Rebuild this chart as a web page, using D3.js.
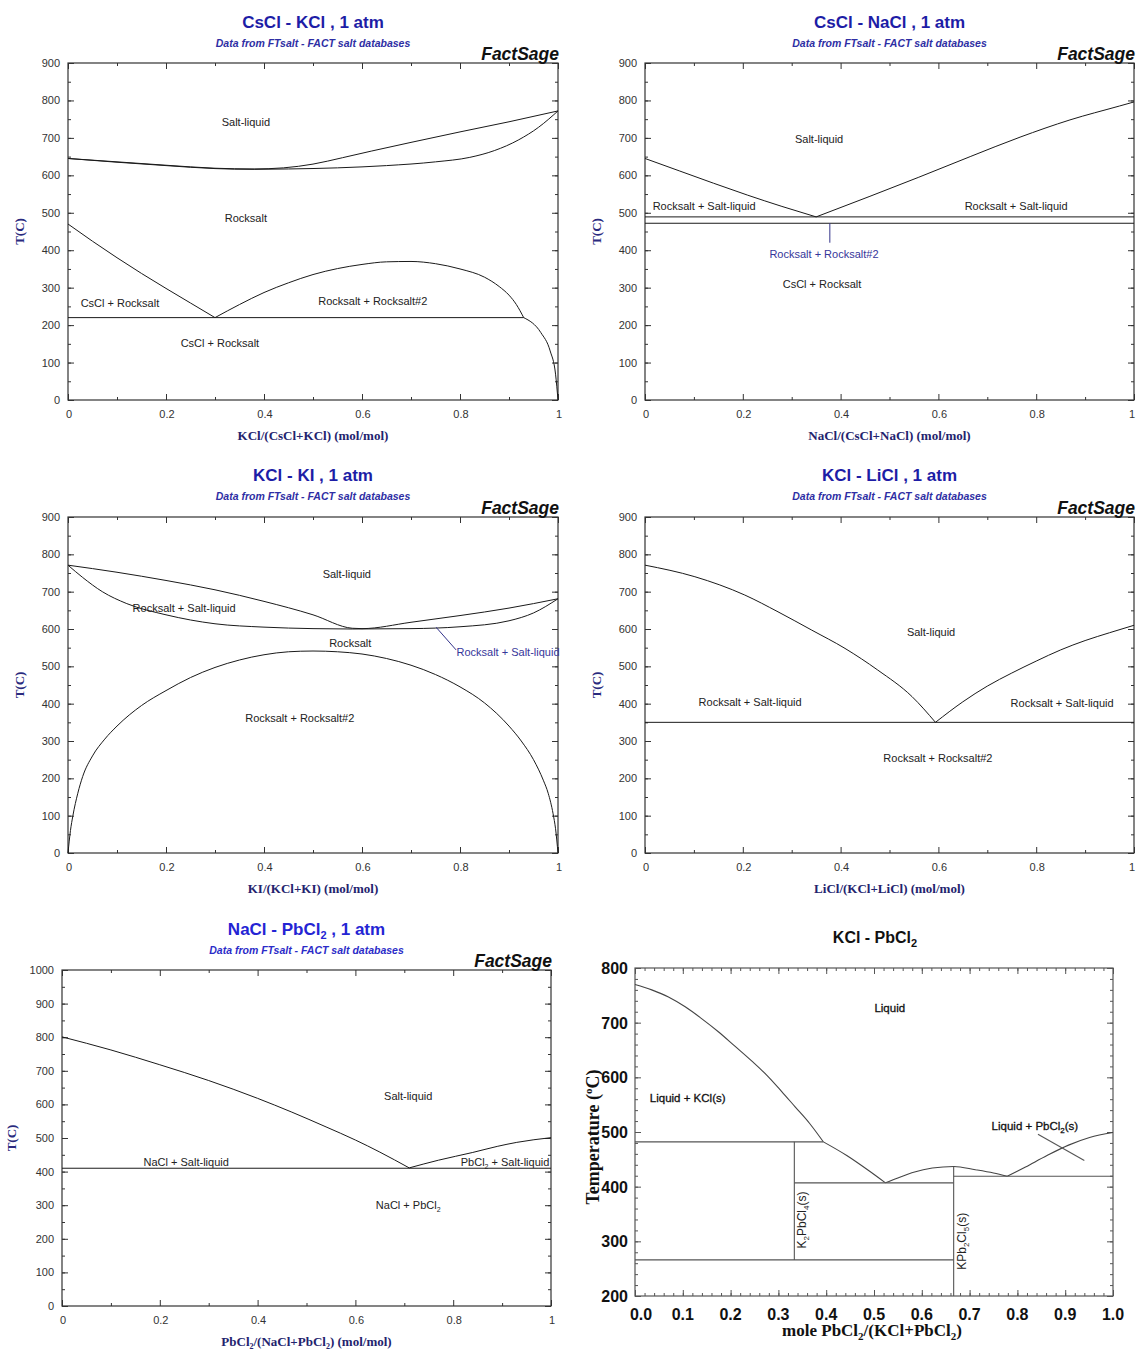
<!DOCTYPE html>
<html>
<head>
<meta charset="utf-8">
<script src="https://cdn.jsdelivr.net/npm/d3@7"></script>
<style>
body { margin: 0; background: #fff; }
svg { display: block; }
</style>
</head>
<body>
<script>
// tick labels
var xTicksFact = [0, 0.2, 0.4, 0.6, 0.8, 1];
var yTicks900 = [0, 100, 200, 300, 400, 500, 600, 700, 800, 900];
var yTicks1000 = [0, 100, 200, 300, 400, 500, 600, 700, 800, 900, 1000];
var xTicksKP = [0, 0.1, 0.2, 0.3, 0.4, 0.5, 0.6, 0.7, 0.8, 0.9, 1.0];
var yTicksKP = [200, 300, 400, 500, 600, 700, 800];

// CsCl - KCl  (x = KCl fraction, T in C)
var csKclLiquidus = [[0,645],[0.1,636],[0.2,627],[0.3,619],[0.38,617],[0.44,620],[0.5,630],[0.56,647],[0.62,665],[0.7,688],[0.8,716],[0.9,743],[1,772]];
var csKclSolidus = [[0,645],[0.1,635],[0.2,626],[0.3,618],[0.38,616],[0.45,617],[0.55,620],[0.65,626],[0.75,636],[0.82,648],[0.87,666],[0.92,695],[0.96,728],[1,772]];
var csKclSolvusLeft = [[0,470],[0.05,424],[0.1,380],[0.15,338],[0.2,298],[0.25,259],[0.3,220]];
var csKclSolvusRight = [[0.3,220],[0.35,255],[0.4,287],[0.45,313],[0.5,335],[0.55,351],[0.6,362],[0.65,369],[0.7,370],[0.75,364],[0.8,350],[0.85,328],[0.88,303],[0.9,280],[0.915,255],[0.93,220]];
var csKclLowBranch = [[0.93,220],[0.965,180],[0.984,131],[0.995,69],[1,0]];
var csKclEutectoid = [[0,220],[0.93,220]];
var csKclLabels = [
  {t: "Salt-liquid", x: 0.363, T: 742},
  {t: "Rocksalt", x: 0.363, T: 486},
  {t: "CsCl + Rocksalt", x: 0.106, T: 259},
  {t: "Rocksalt + Rocksalt#2", x: 0.622, T: 264},
  {t: "CsCl + Rocksalt", x: 0.31, T: 152}
];

// CsCl - NaCl
var csNaLiqLeft = [[0,645],[0.07,612],[0.14,579],[0.21,547],[0.28,517],[0.35,489]];
var csNaLiqRight = [[0.35,489],[0.46,544],[0.56,595],[0.665,650],[0.767,702],[0.869,748],[0.97,785],[1,796]];
var csNaEutectic = [[0,489],[1,489]];
var csNaTransition = [[0,472],[1,472]];
var csNaLeader = [[0.378,472],[0.378,420]];
var csNaLabels = [
  {t: "Salt-liquid", x: 0.356, T: 697},
  {t: "Rocksalt + Salt-liquid", x: 0.121, T: 518},
  {t: "Rocksalt + Salt-liquid", x: 0.759, T: 518},
  {t: "Rocksalt + Rocksalt#2", x: 0.366, T: 390, blue: true},
  {t: "CsCl + Rocksalt", x: 0.362, T: 310}
];

// KCl - KI
var kkiLiquidus = [[0,771],[0.1,752],[0.2,730],[0.3,705],[0.4,674],[0.5,638],[0.58,602],[0.6,601],[0.7,618],[0.8,636],[0.9,656],[1,681]];
var kkiSolidus = [[0,771],[0.03,738],[0.07,700],[0.12,668],[0.2,638],[0.3,614],[0.4,605],[0.5,601],[0.58,600],[0.7,601],[0.8,606],[0.9,622],[0.95,643],[1,681]];
var kkiGap = [[0,0],[0.005,60],[0.01,100],[0.02,160],[0.03,205],[0.05,260],[0.075,305],[0.1,340],[0.15,395],[0.2,435],[0.25,470],[0.3,497],[0.35,517],[0.4,531],[0.45,539],[0.5,541],[0.55,539],[0.6,533],[0.65,521],[0.7,503],[0.75,478],[0.8,445],[0.85,402],[0.9,340],[0.925,300],[0.95,250],[0.97,195],[0.98,160],[0.99,105],[0.995,65],[1,0]];
var kkiLeader = [[0.751,605],[0.792,544]];
var kkiLabels = [
  {t: "Salt-liquid", x: 0.569, T: 747},
  {t: "Rocksalt + Salt-liquid", x: 0.237, T: 656},
  {t: "Rocksalt", x: 0.576, T: 563},
  {t: "Rocksalt + Salt-liquid", x: 0.898, T: 538, blue: true},
  {t: "Rocksalt + Rocksalt#2", x: 0.473, T: 362}
];

// KCl - LiCl
var kliLiqLeft = [[0,771],[0.102,740],[0.204,691],[0.272,646],[0.341,597],[0.409,548],[0.476,490],[0.546,419],[0.594,350]];
var kliLiqRight = [[0.594,350],[0.65,405],[0.7,447],[0.75,482],[0.8,514],[0.85,544],[0.9,569],[0.95,590],[1,610]];
var kliEutectic = [[0,350],[1,350]];
var kliLabels = [
  {t: "Salt-liquid", x: 0.585, T: 592},
  {t: "Rocksalt + Salt-liquid", x: 0.215, T: 404},
  {t: "Rocksalt + Salt-liquid", x: 0.853, T: 402},
  {t: "Rocksalt + Rocksalt#2", x: 0.599, T: 254}
];

// NaCl - PbCl2
var npLiqLeft = [[0,801],[0.1,762],[0.2,718],[0.3,671],[0.4,618],[0.47,577],[0.54,533],[0.6,494],[0.65,458],[0.71,411]];
var npLiqRight = [[0.71,411],[0.77,434],[0.84,457],[0.89,475],[0.93,487],[1,501]];
var npEutectic = [[0,410],[1,410]];
var npLabels = [
  {t: "Salt-liquid", x: 0.708, T: 625},
  {t: "NaCl + Salt-liquid", x: 0.254, T: 429},
  {t: "PbCl_2 + Salt-liquid", x: 0.906, T: 429},
  {t: "NaCl + PbCl_2", x: 0.708, T: 300}
];

// KCl - PbCl2
var kpLiq1 = [[0,770],[0.035,760],[0.07,747],[0.105,729],[0.14,707],[0.175,683],[0.209,657],[0.244,630],[0.279,601],[0.307,574],[0.335,546],[0.365,516],[0.394,482]];
var kpLiq2 = [[0.394,482],[0.443,457],[0.488,430],[0.524,407]];
var kpLiq3 = [[0.524,407],[0.547,415],[0.585,427],[0.622,434],[0.667,437],[0.712,431],[0.75,425],[0.779,419]];
var kpLiq4 = [[0.779,419],[0.817,436],[0.862,457],[0.907,476],[0.951,490],[1,499]];
var kpLines = [
  [[0,482],[0.394,482]],
  [[1/3,482],[1/3,266]],
  [[0,266],[2/3,266]],
  [[1/3,407],[2/3,407]],
  [[2/3,437],[2/3,200]],
  [[2/3,419],[1,419]],
  [[0.843,496],[0.94,448]]
];
var kpLabels = [
  {t: "Liquid", x: 0.533, T: 727, anchor: "middle"},
  {t: "Liquid + KCl(s)", x: 0.031, T: 562, anchor: "start"},
  {t: "Liquid + PbCl_2(s)", x: 0.746, T: 511, anchor: "start"}
];
var kpPhases = [
  {t: "K_2PbCl_4(s)", x: 0.349, T: 339},
  {t: "KPb_2Cl_5(s)", x: 0.684, T: 300}
];

var svg = d3.select("body").append("svg")
    .attr("width", 1136)
    .attr("height", 1352);

// text with _n subscripts
function rich(sel, str, subSize, shift) {
  var parts = str.split(/_(\d)/);
  var low = false;
  parts.forEach(function(s, i){
    if (s === "") return;
    var t = sel.append("tspan").text(s);
    if (i % 2 === 1) { t.attr("font-size", subSize).attr("dy", shift); low = true; }
    else if (low) { t.attr("dy", -shift); low = false; }
  });
}

function inwardTicks(g, x, y, p, xMaj, xMin, yMaj, yMin, lMaj, lMin, col) {
  var sets = [
    [d3.axisBottom(x), p.bottom, true], [d3.axisTop(x), p.top, true],
    [d3.axisLeft(y), p.left, false], [d3.axisRight(y), p.right, false]
  ];
  sets.forEach(function(s){
    [[s[2] ? xMin : yMin, lMin], [s[2] ? xMaj : yMaj, lMaj]].forEach(function(v){
      var ax = g.append("g")
        .attr("transform", s[2] ? "translate(0," + s[1] + ")" : "translate(" + s[1] + ",0)")
        .call(s[0].tickValues(v[0]).tickSize(-v[1]).tickFormat(""));
      ax.select(".domain").remove();
      ax.selectAll("line").attr("stroke", col);
    });
  });
}

function factPanel(p) {
  var g = svg.append("g");
  var x = d3.scaleLinear().domain([0, 1]).range([p.left, p.right]);
  var y = d3.scaleLinear().domain([0, p.tmax]).range([p.bottom, p.top]);
  var cx = (p.left + p.right) / 2;

  var yMin = y.ticks(p.tmax / 50);
  inwardTicks(g, x, y, p, xTicksFact, [0.1,0.3,0.5,0.7,0.9], p.yTicks, yMin, 6, 3, "#333");

  g.append("rect")
    .attr("x", p.left).attr("y", p.top)
    .attr("width", p.right - p.left).attr("height", p.bottom - p.top)
    .attr("fill", "none").attr("stroke", "#333").attr("stroke-width", 1.2);

  // tick labels (keep the last one inside the page)
  g.selectAll("text.xt").data(xTicksFact).enter().append("text")
    .attr("class", "xt")
    .attr("x", function(d){ return Math.min(x(d) + 1, 1135); })
    .attr("y", p.bottom + 18)
    .attr("text-anchor", function(d){ return x(d) + 4 > 1136 ? "end" : "middle"; })
    .attr("font-family", "Liberation Sans, Arial, sans-serif")
    .attr("font-size", 11).attr("fill", "#333")
    .text(function(d){ return d3.format("~g")(d); });
  g.selectAll("text.yt").data(p.yTicks).enter().append("text")
    .attr("class", "yt")
    .attr("x", p.left - 8)
    .attr("y", function(d){ return y(d) + 4; })
    .attr("text-anchor", "end")
    .attr("font-family", "Liberation Sans, Arial, sans-serif")
    .attr("font-size", 11).attr("fill", "#333")
    .text(function(d){ return d; });

  var smooth = d3.line().x(function(d){ return x(d[0]); }).y(function(d){ return y(d[1]); }).curve(d3.curveMonotoneX);
  var straight = d3.line().x(function(d){ return x(d[0]); }).y(function(d){ return y(d[1]); });
  p.curves.forEach(function(c){
    g.append("path").attr("d", smooth(c)).attr("fill", "none")
      .attr("stroke", "#1a1a1a").attr("stroke-width", 1);
  });
  p.lines.forEach(function(c){
    g.append("path").attr("d", straight(c)).attr("fill", "none")
      .attr("stroke", "#1a1a1a").attr("stroke-width", 1);
  });
  (p.leaders || []).forEach(function(c){
    g.append("path").attr("d", straight(c)).attr("fill", "none")
      .attr("stroke", "#33338a").attr("stroke-width", 1);
  });

  p.labels.forEach(function(l){
    var t = g.append("text")
      .attr("x", x(l.x)).attr("y", y(l.T) + 4)
      .attr("text-anchor", "middle")
      .attr("font-family", "Liberation Sans, Arial, sans-serif")
      .attr("font-size", 11)
      .attr("fill", l.blue ? "#36369a" : "#222");
    rich(t, l.t, 7, 3);
  });

  // titles
  var tt = g.append("text").attr("x", cx).attr("y", p.titleY)
    .attr("text-anchor", "middle")
    .attr("font-family", "Liberation Sans, Arial, sans-serif")
    .attr("font-weight", "bold").attr("font-size", 17)
    .attr("fill", p.titleColor);
  rich(tt, p.title, 11, 4);
  g.append("text").attr("x", cx).attr("y", p.titleY + 19)
    .attr("text-anchor", "middle")
    .attr("font-family", "Liberation Sans, Arial, sans-serif")
    .attr("font-weight", "bold").attr("font-style", "italic").attr("font-size", 10.5)
    .attr("fill", p.subColor)
    .text("Data from FTsalt - FACT salt databases");
  g.append("text").attr("x", p.right + 1).attr("y", p.top - 3)
    .attr("text-anchor", "end")
    .attr("font-family", "Liberation Sans, Arial, sans-serif")
    .attr("font-weight", "bold").attr("font-style", "italic").attr("font-size", 17.5)
    .attr("fill", "#111")
    .text("FactSage");

  // axis titles
  g.append("text")
    .attr("transform", "translate(" + (p.left - p.yTitleOff) + "," + ((p.top + p.bottom) / 2) + ") rotate(-90)")
    .attr("text-anchor", "middle")
    .attr("font-family", "Liberation Serif, Times New Roman, serif")
    .attr("font-weight", "bold").attr("font-size", 13)
    .attr("fill", "#2a2a7e")
    .text("T(C)");
  var xt = g.append("text").attr("x", cx).attr("y", p.bottom + 40)
    .attr("text-anchor", "middle")
    .attr("font-family", "Liberation Serif, Times New Roman, serif")
    .attr("font-weight", "bold").attr("font-size", 13)
    .attr("fill", "#23236e");
  rich(xt, p.xTitle, 8, 3);
}

var darkBlue = "#1d1da6", subBlue = "#2e2ea4";

factPanel({left: 68, right: 558, top: 63, bottom: 400, tmax: 900, yTicks: yTicks900,
  title: "CsCl - KCl , 1 atm", titleY: 28, titleColor: darkBlue, subColor: subBlue,
  xTitle: "KCl/(CsCl+KCl) (mol/mol)", yTitleOff: 44,
  curves: [csKclLiquidus, csKclSolidus, csKclSolvusLeft, csKclSolvusRight, csKclLowBranch],
  lines: [csKclEutectoid], labels: csKclLabels});

factPanel({left: 645, right: 1134, top: 63, bottom: 400, tmax: 900, yTicks: yTicks900,
  title: "CsCl - NaCl , 1 atm", titleY: 28, titleColor: darkBlue, subColor: subBlue,
  xTitle: "NaCl/(CsCl+NaCl) (mol/mol)", yTitleOff: 44,
  curves: [csNaLiqLeft, csNaLiqRight],
  lines: [csNaEutectic, csNaTransition], leaders: [csNaLeader], labels: csNaLabels});

factPanel({left: 68, right: 558, top: 517, bottom: 853, tmax: 900, yTicks: yTicks900,
  title: "KCl - KI , 1 atm", titleY: 481, titleColor: darkBlue, subColor: subBlue,
  xTitle: "KI/(KCl+KI) (mol/mol)", yTitleOff: 44,
  curves: [kkiLiquidus, kkiSolidus, kkiGap],
  lines: [], leaders: [kkiLeader], labels: kkiLabels});

factPanel({left: 645, right: 1134, top: 517, bottom: 853, tmax: 900, yTicks: yTicks900,
  title: "KCl - LiCl , 1 atm", titleY: 481, titleColor: darkBlue, subColor: subBlue,
  xTitle: "LiCl/(KCl+LiCl) (mol/mol)", yTitleOff: 44,
  curves: [kliLiqLeft, kliLiqRight],
  lines: [kliEutectic], labels: kliLabels});

factPanel({left: 62, right: 551, top: 970, bottom: 1306, tmax: 1000, yTicks: yTicks1000,
  title: "NaCl - PbCl_2 , 1 atm", titleY: 935, titleColor: "#2424d4", subColor: "#2b2bc8",
  xTitle: "PbCl_2/(NaCl+PbCl_2) (mol/mol)", yTitleOff: 46,
  curves: [npLiqLeft, npLiqRight],
  lines: [npEutectic], labels: npLabels});

// KCl - PbCl2 panel (different style)
(function(){
  var p = {left: 635, right: 1113, top: 968, bottom: 1296};
  var g = svg.append("g");
  var x = d3.scaleLinear().domain([0, 1]).range([p.left, p.right]);
  var y = d3.scaleLinear().domain([200, 800]).range([p.bottom, p.top]);
  var cx = (p.left + p.right) / 2;

  inwardTicks(g, x, y, p, xTicksKP, x.ticks(50), yTicksKP, y.ticks(30), 6, 3, "#555");
  g.append("rect")
    .attr("x", p.left).attr("y", p.top)
    .attr("width", p.right - p.left).attr("height", p.bottom - p.top)
    .attr("fill", "none").attr("stroke", "#555").attr("stroke-width", 1.2);

  g.selectAll("text.xt").data(xTicksKP).enter().append("text")
    .attr("x", function(d, i){ return x(d) + (i === 0 ? 6 : 0); })
    .attr("y", p.bottom + 24)
    .attr("text-anchor", "middle")
    .attr("font-family", "Liberation Sans, Arial, sans-serif")
    .attr("font-weight", "bold").attr("font-size", 16).attr("fill", "#111")
    .text(function(d){ return d3.format(".1f")(d); });
  g.selectAll("text.yt").data(yTicksKP).enter().append("text")
    .attr("x", p.left - 7)
    .attr("y", function(d){ return y(d) + 6; })
    .attr("text-anchor", "end")
    .attr("font-family", "Liberation Sans, Arial, sans-serif")
    .attr("font-weight", "bold").attr("font-size", 16).attr("fill", "#111")
    .text(function(d){ return d; });

  var smooth = d3.line().x(function(d){ return x(d[0]); }).y(function(d){ return y(d[1]); }).curve(d3.curveMonotoneX);
  var straight = d3.line().x(function(d){ return x(d[0]); }).y(function(d){ return y(d[1]); });
  [kpLiq1, kpLiq2, kpLiq3, kpLiq4].forEach(function(c){
    g.append("path").attr("d", smooth(c)).attr("fill", "none")
      .attr("stroke", "#444").attr("stroke-width", 1.1);
  });
  kpLines.forEach(function(c){
    g.append("path").attr("d", straight(c)).attr("fill", "none")
      .attr("stroke", "#555").attr("stroke-width", 1.1);
  });

  kpLabels.forEach(function(l){
    var t = g.append("text")
      .attr("x", x(l.x)).attr("y", y(l.T) + 4)
      .attr("text-anchor", l.anchor)
      .attr("font-family", "Liberation Sans, Arial, sans-serif")
      .attr("font-size", 11.5).attr("fill", "#111")
      .attr("stroke", "#111").attr("stroke-width", 0.3);
    rich(t, l.t, 8, 3);
  });
  kpPhases.forEach(function(l){
    var t = g.append("text")
      .attr("transform", "translate(" + (x(l.x) + 4) + "," + y(l.T) + ") rotate(-90)")
      .attr("text-anchor", "middle")
      .attr("font-family", "Liberation Sans, Arial, sans-serif")
      .attr("font-size", 12).attr("fill", "#222");
    rich(t, l.t, 8, 3);
  });

  var tt = g.append("text").attr("x", cx + 1).attr("y", 943)
    .attr("text-anchor", "middle")
    .attr("font-family", "Liberation Sans, Arial, sans-serif")
    .attr("font-weight", "bold").attr("font-size", 16).attr("fill", "#111");
  rich(tt, "KCl - PbCl_2", 11, 4);

  var yt = g.append("text")
    .attr("transform", "translate(" + (p.left - 36) + "," + ((p.top + p.bottom) / 2 + 5) + ") rotate(-90)")
    .attr("text-anchor", "middle")
    .attr("font-family", "Liberation Serif, Times New Roman, serif")
    .attr("font-weight", "bold").attr("font-size", 18).attr("fill", "#111");
  yt.append("tspan").text("Temperature (");
  yt.append("tspan").attr("font-size", 11).attr("dy", -7).text("o");
  yt.append("tspan").attr("dy", 7).text("C)");

  var xt = g.append("text").attr("x", cx - 2).attr("y", 1336)
    .attr("text-anchor", "middle")
    .attr("font-family", "Liberation Serif, Times New Roman, serif")
    .attr("font-weight", "bold").attr("font-size", 17).attr("fill", "#111");
  rich(xt, "mole PbCl_2/(KCl+PbCl_2)", 11, 4);
})();
</script>
</body>
</html>
